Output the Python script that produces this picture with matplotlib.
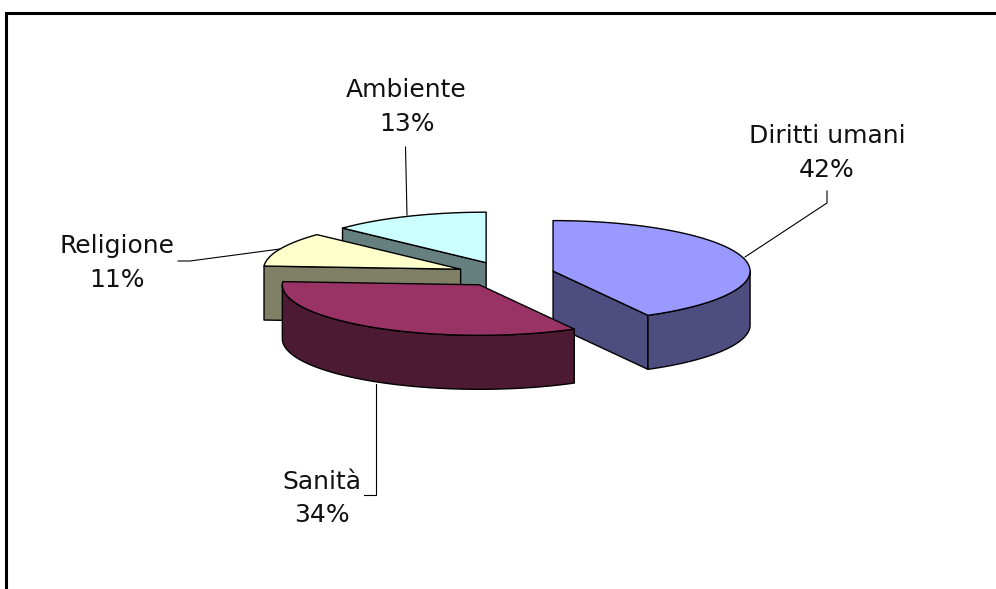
import numpy as np
import matplotlib
matplotlib.use('Agg')
import matplotlib.pyplot as plt
from matplotlib.patches import Polygon, Rectangle

# Ripartizione per settore
settori = ['Diritti umani', 'Sanità', 'Religione', 'Ambiente']
percentuali = [42, 34, 11, 13]

colori_sopra = ['#9999ff', '#993366', '#ffffcc', '#ccffff']
colori_lato = ['#4d4d80', '#4d1a33', '#808066', '#668080']

# Geometria della torta (in pixel della figura)
CX, CY = 505.6, 274.2
RAGGIO_X, RAGGIO_Y = 197, 50.5
SPESSORE = 54
ESPLOSO = 49

# Ordine di disegno: prima i settori dietro
ordine = [3, 2, 0, 1]

# Posizione delle etichette e linee guida
pos_etichette = [(827, 153), (322, 498.5), (117.5, 263), (406.5, 107)]
guide = [
    [(745, 257), (827, 203), (827, 191)],
    [(375.5, 384), (375.5, 495), (364, 495)],
    [(280, 249), (190, 261), (178, 261)],
    [(407, 215), (405.5, 147)],
]


def punto_ellisse(theta, cx, cy):
    return np.column_stack([cx + RAGGIO_X * np.sin(theta),
                            cy - RAGGIO_Y * np.cos(theta)])


def disegna_fetta(ax, t1, t2, col_sopra, col_lato):
    # Centro del settore spostato lungo la bisettrice
    medio = (t1 + t2) / 2
    cx = CX + ESPLOSO * np.sin(medio)
    cy = CY - ESPLOSO * RAGGIO_Y / RAGGIO_X * np.cos(medio)
    centro = np.array([[cx, cy]])
    abbassa = np.array([0, SPESSORE])

    stile = dict(edgecolor='black', linewidth=1.0, joinstyle='round')

    # Pareti radiali visibili
    for t, visibile in ((t1, np.sin(t1) < 0), (t2, np.sin(t2) > 0)):
        if visibile:
            estremo = punto_ellisse(np.array([t]), cx, cy)
            quad = np.vstack([centro, estremo, estremo + abbassa, centro + abbassa])
            ax.add_patch(Polygon(quad, closed=True, facecolor=col_lato, **stile))

    # Parete esterna, solo la parte rivolta verso chi guarda
    a = max(t1, np.pi / 2)
    b = min(t2, 3 * np.pi / 2)
    if b > a:
        arco = punto_ellisse(np.linspace(a, b, 80), cx, cy)
        parete = np.vstack([arco, (arco + abbassa)[::-1]])
        ax.add_patch(Polygon(parete, closed=True, facecolor=col_lato, **stile))

    # Faccia superiore
    arco = punto_ellisse(np.linspace(t1, t2, 120), cx, cy)
    ax.add_patch(Polygon(np.vstack([centro, arco]), closed=True,
                         facecolor=col_sopra, **stile))


fig = plt.figure(figsize=(9.96, 5.89), dpi=100)
ax = fig.add_axes([0, 0, 1, 1])
ax.set_xlim(0, 996)
ax.set_ylim(589, 0)
ax.axis('off')

# Cornice del grafico: i lati destro e inferiore restano fuori dalla figura
ax.add_patch(Rectangle((5.8, 13), 1100, 700, facecolor='white',
                       edgecolor='black', linewidth=2.2))

# Angoli dei settori, in senso orario dall'alto
quote = np.array(percentuali) / sum(percentuali)
limiti = np.concatenate([[0], np.cumsum(quote)]) * 2 * np.pi

for i in ordine:
    disegna_fetta(ax, limiti[i], limiti[i + 1], colori_sopra[i], colori_lato[i])

for guida in guide:
    xs, ys = zip(*guida)
    ax.plot(xs, ys, color='black', linewidth=0.8, solid_joinstyle='miter')

for nome, perc, (x, y) in zip(settori, percentuali, pos_etichette):
    ax.text(x, y, f'{nome}\n{perc}%', ha='center', va='center', fontsize=18,
            family='DejaVu Sans', color='#111111', linespacing=1.5)

fig.savefig('out.png', dpi=100)
